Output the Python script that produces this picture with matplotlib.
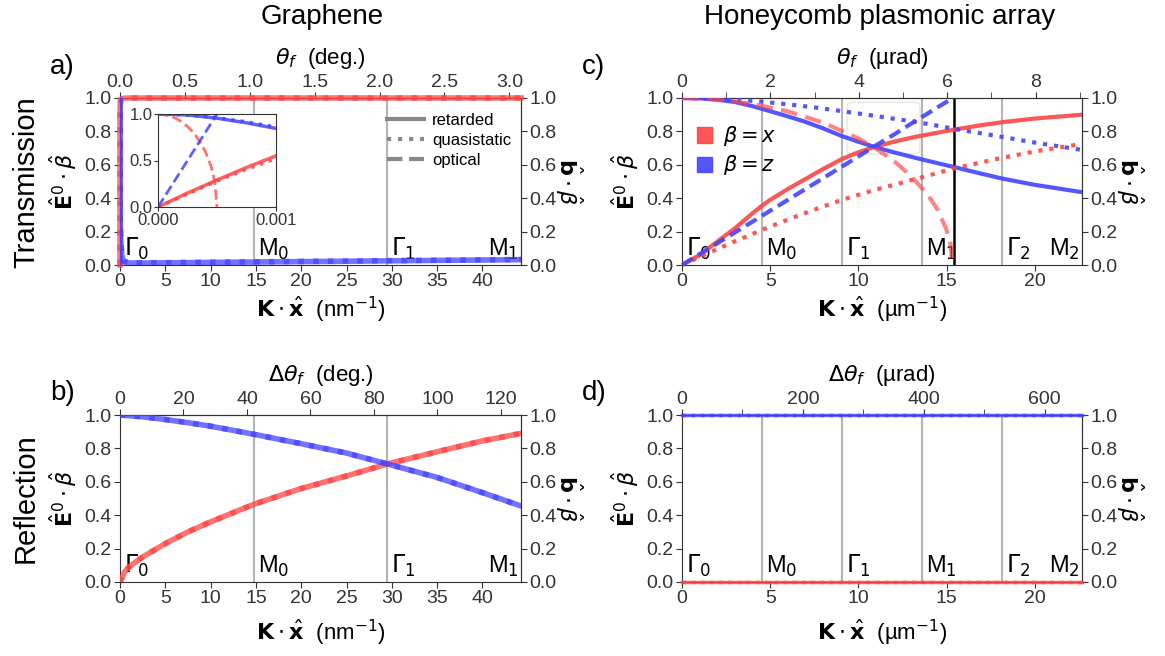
import numpy as np
import matplotlib
matplotlib.use('Agg')
import matplotlib.pyplot as plt
from matplotlib.lines import Line2D
from matplotlib.patches import Patch, FancyBboxPatch
from matplotlib.ticker import MultipleLocator

plt.rcParams['font.family'] = ['Liberation Sans', 'DejaVu Sans']
plt.rcParams['mathtext.fontset'] = 'dejavusans'
plt.rcParams['axes.edgecolor'] = '#333333'
plt.rcParams['xtick.color'] = '#333333'
plt.rcParams['ytick.color'] = '#333333'

red = '#ff4444'
blue = '#4444ff'
grey = '#b4b4b4'

# ---- graphene, transmission (a) ----
k_gr_t = [0, 0.00025, 0.0005, 0.00075, 0.001, 0.003, 0.01, 0.03, 0.1, 0.2, 0.35, 1, 5, 15, 30, 44.25]
x_ret_gr_t = [0, 0.15, 0.29, 0.425, 0.55, 0.8, 0.93, 0.97, 0.99, 0.995, 0.998, 1, 1, 1, 1, 1]
z_ret_gr_t = [1, 0.99, 0.955, 0.905, 0.845, 0.6, 0.37, 0.24, 0.12, 0.06, 0.02, 0.012, 0.013, 0.018, 0.025, 0.032]
x_qs_gr_t = [0, 0.14, 0.28, 0.405, 0.52, 0.77, 0.92, 0.965, 0.99, 0.995, 0.998, 1, 1, 1, 1, 1]
z_qs_gr_t = [1, 0.99, 0.96, 0.915, 0.86, 0.63, 0.39, 0.26, 0.13, 0.065, 0.025, 0.013, 0.014, 0.019, 0.026, 0.033]
k_gr_opt = [0, 0.0001, 0.00015, 0.0002, 0.00025, 0.0003, 0.00035, 0.0004, 0.00045, 0.00048, 0.0005]
x_opt_gr = [1, 0.98, 0.954, 0.917, 0.866, 0.8, 0.714, 0.6, 0.436, 0.28, 0]
z_opt_gr = [0, 0.2, 0.3, 0.4, 0.5, 0.6, 0.7, 0.8, 0.9, 0.96, 1.0]

# ---- graphene, reflection (b) ----
k_gr_r = [0, 0.5, 1, 2.5, 5, 7.5, 10, 14.75, 20, 25, 29.5, 35, 40, 44.25]
x_gr_r = [0, 0.06, 0.09, 0.15, 0.23, 0.3, 0.36, 0.465, 0.56, 0.635, 0.707, 0.78, 0.845, 0.89]
z_gr_r = [1, 0.998, 0.996, 0.989, 0.973, 0.954, 0.933, 0.885, 0.828, 0.772, 0.707, 0.626, 0.535, 0.455]

# ---- honeycomb array, transmission (c) ----
k_hc = [0, 1, 2, 3, 4, 4.535, 5, 6, 7, 8, 9.07, 10, 11, 12, 13, 13.6, 15.4, 17, 18.14, 20, 22.675]
x_ret_hc = [0, 0.06, 0.14, 0.22, 0.31, 0.355, 0.39, 0.455, 0.515, 0.575, 0.635, 0.675, 0.71,
            0.738, 0.762, 0.775, 0.81, 0.838, 0.855, 0.877, 0.9]
z_ret_hc = [1.0, 0.998, 0.99, 0.976, 0.951, 0.935, 0.921, 0.89, 0.857, 0.818, 0.772, 0.738, 0.704,
            0.675, 0.648, 0.632, 0.587, 0.546, 0.518, 0.48, 0.436]
x_qs_hc = [0, 0.048, 0.095, 0.142, 0.186, 0.21, 0.23, 0.272, 0.312, 0.35, 0.39, 0.42, 0.452,
           0.48, 0.508, 0.525, 0.578, 0.615, 0.642, 0.68, 0.725]
z_qs_hc = [1.0, 0.999, 0.995, 0.99, 0.983, 0.978, 0.973, 0.962, 0.95, 0.937, 0.921, 0.907, 0.892,
           0.876, 0.861, 0.851, 0.816, 0.788, 0.767, 0.733, 0.689]
k_hc_opt = [0, 2, 4, 6, 8, 10, 11, 12, 13, 14, 14.5, 15, 15.2, 15.35]
x_opt_hc = [1.0, 0.991, 0.965, 0.92, 0.853, 0.758, 0.697, 0.624, 0.532, 0.41, 0.33, 0.21, 0.14, 0.0]
z_opt_hc = [0, 0.13, 0.26, 0.39, 0.52, 0.65, 0.717, 0.78, 0.847, 0.912, 0.945, 0.977, 0.99, 1.0]
k_light = 15.4

# ---- honeycomb array, reflection (d) ----
k_hc_r = [0, 22.675]
x_hc_r = [0.0, 0.0]
z_hc_r = [1.0, 1.0]

# symmetry points
gr_sym = [0, 14.75, 29.5, 44.25]
gr_lbl = [r'$\Gamma_0$', r'M$_0$', r'$\Gamma_1$', r'M$_1$']
hc_sym = [0, 4.535, 9.07, 13.6, 18.14, 22.675]
hc_lbl = [r'$\Gamma_0$', r'M$_0$', r'$\Gamma_1$', r'M$_1$', r'$\Gamma_2$', r'M$_2$']

W, H = 1165, 656


def box(l, t, r, b):
    return [l / W, 1 - b / H, (r - l) / W, (b - t) / H]


def setup(ax, sym, lbl, f, top_major, top_minor, top_label, unit, xpad):
    ax.set_xlim(0, sym[-1])
    ax.set_ylim(0, 1)
    for x in sym[1:-1]:
        ax.axvline(x, color=grey, lw=1.5, zorder=0)
    for i, (x, s) in enumerate(zip(sym, lbl)):
        if i == len(sym) - 1:
            ax.annotate(s, (x, 0), xytext=(-2, 9), textcoords='offset pixels',
                        ha='right', va='baseline', fontsize=17)
        else:
            ax.annotate(s, (x, 0), xytext=(4, 9), textcoords='offset pixels',
                        ha='left', va='baseline', fontsize=17)
    ax.set_yticks(np.arange(0, 1.01, 0.2))
    ax.xaxis.set_major_locator(MultipleLocator(5))
    ax.tick_params(direction='out', length=4, labelsize=14, pad=2)
    ax.set_xlabel(r'$\mathbf{K}\cdot\hat{\mathbf{x}}$  (' + unit + r'$^{\mathsf{-1}}$)',
                  fontsize=16, labelpad=xpad)
    ax.set_ylabel(r'$\hat{\mathbf{E}}^0\cdot\hat{\beta}$', fontsize=16, labelpad=4)
    top = ax.secondary_xaxis('top', functions=(lambda k: k * f, lambda t: t / f))
    top.xaxis.set_major_locator(MultipleLocator(top_major))
    top.xaxis.set_minor_locator(MultipleLocator(top_minor))
    top.tick_params(which='both', direction='out', length=4, labelsize=14, pad=1)
    top.set_xlabel(top_label, fontsize=16, labelpad=7)
    right = ax.secondary_yaxis('right')
    right.set_yticks(np.arange(0, 1.01, 0.2))
    right.tick_params(direction='out', length=4, labelsize=14, pad=2)
    right.set_ylabel(r'$\hat{\mathbf{b}}\cdot\hat{\beta}$', fontsize=16, rotation=270, labelpad=20)


fig = plt.figure(figsize=(11.65, 6.56), dpi=100)

ax_a = fig.add_axes(box(120, 98, 521, 265))
ax_b = fig.add_axes(box(120, 415, 521, 582))
ax_c = fig.add_axes(box(682, 98, 1082, 265))
ax_d = fig.add_axes(box(682, 415, 1082, 582))

setup(ax_a, gr_sym, gr_lbl, 3.09 / 44.25, 0.5, 0.5, r'$\theta_f$  (deg.)', 'nm', 3)
setup(ax_b, gr_sym, gr_lbl, 126.3 / 44.25, 20, 20, r'$\Delta\theta_f$  (deg.)', 'nm', 8)
setup(ax_c, hc_sym, hc_lbl, 9.05 / 22.675, 2, 1, r'$\theta_f$  (µrad)', 'µm', 3)
setup(ax_d, hc_sym, hc_lbl, 662.0 / 22.675, 200, 100, r'$\Delta\theta_f$  (µrad)', 'µm', 8)

# (a) graphene transmission: the three models overlap
ax_a.plot(k_gr_t, x_ret_gr_t, color=red, lw=4, alpha=0.75, clip_on=False, zorder=3)
ax_a.plot(k_gr_t, x_qs_gr_t, color=red, lw=4, ls=':', alpha=0.75, clip_on=False, zorder=3)
ax_a.plot(k_gr_t, z_ret_gr_t, color=blue, lw=4, alpha=0.75, zorder=3)
ax_a.plot(k_gr_t, z_qs_gr_t, color=blue, lw=4, ls=':', alpha=0.75, zorder=3)
ax_a.plot(k_gr_opt, z_opt_gr, color=blue, lw=3, ls='--', alpha=0.75, zorder=3)

ax_a.legend([Line2D([], [], color='#888888', lw=3, ls=s) for s in ['-', ':', '--']],
            ['retarded', 'quasistatic', 'optical'], loc='upper right',
            bbox_to_anchor=(1.0, 0.97), frameon=False, fontsize=12,
            handlelength=2.2, handletextpad=0.5, labelspacing=0.3, borderaxespad=0.2)

ins = fig.add_axes(box(158, 114, 276, 207))
ins.plot(k_gr_t, x_ret_gr_t, color=red, lw=2.5, alpha=0.85)
ins.plot(k_gr_t, x_qs_gr_t, color=red, lw=2.5, ls=':', alpha=0.85)
ins.plot(k_gr_t, z_ret_gr_t, color=blue, lw=2.5, alpha=0.85)
ins.plot(k_gr_t, z_qs_gr_t, color=blue, lw=2.5, ls=':', alpha=0.85)
ins.plot(k_gr_opt, x_opt_gr, color=red, lw=2, ls='--', alpha=0.75)
ins.plot(k_gr_opt, z_opt_gr, color=blue, lw=2, ls='--', alpha=0.85)
ins.set_xlim(0, 0.001)
ins.set_ylim(0, 1)
ins.set_xticks([0, 0.001])
ins.set_xticklabels(['0.000', '0.001'])
ins.set_yticks([0, 0.5, 1.0])
ins.tick_params(direction='out', length=3, labelsize=12, pad=1)

# (b) graphene reflection
ax_b.plot(k_gr_r, x_gr_r, color=red, lw=4, alpha=0.75, zorder=3)
ax_b.plot(k_gr_r, x_gr_r, color=red, lw=4, ls=':', alpha=0.75, zorder=3)
ax_b.plot(k_gr_r, z_gr_r, color=blue, lw=4, alpha=0.75, zorder=3)
ax_b.plot(k_gr_r, z_gr_r, color=blue, lw=4, ls=':', alpha=0.75, zorder=3)

# (c) honeycomb transmission
ax_c.axvline(k_light, color='black', lw=1.8, zorder=2)
ax_c.plot(k_hc, x_ret_hc, color=red, lw=3, alpha=0.9, zorder=3)
ax_c.plot(k_hc, z_ret_hc, color=blue, lw=3, alpha=0.9, zorder=3)
ax_c.plot(k_hc, x_qs_hc, color=red, lw=3, ls=':', alpha=0.9, zorder=3)
ax_c.plot(k_hc, z_qs_hc, color=blue, lw=3, ls=':', alpha=0.9, zorder=3)
ax_c.plot(k_hc_opt, x_opt_hc, color=red, lw=3, ls=(0, (4, 2)), alpha=0.65, zorder=3)
ax_c.plot(k_hc_opt, z_opt_hc, color=blue, lw=3, ls=(0, (3, 1.5)), alpha=0.9, zorder=3, clip_on=False)
ax_c.add_patch(FancyBboxPatch((0.4125, 0.665), 0.1825, 0.31, boxstyle='round,pad=0,rounding_size=0.02',
                              transform=ax_c.transAxes, fill=False, ec='#e2e2e2', lw=0.8, zorder=1))
ax_c.legend([Patch(color=red, alpha=0.9), Patch(color=blue, alpha=0.9)],
            [r'$\beta = x$', r'$\beta = z$'], loc='upper left', bbox_to_anchor=(0.0, 0.93),
            frameon=False, fontsize=15, handlelength=0.75, handleheight=0.75,
            handletextpad=0.5, labelspacing=0.25, borderaxespad=0.3)

# (d) honeycomb reflection
ax_d.plot(k_hc_r, z_hc_r, color=blue, lw=2.5, alpha=0.8, zorder=3, clip_on=False)
ax_d.plot(k_hc_r, z_hc_r, color=blue, lw=2.5, ls=':', alpha=0.8, zorder=3, clip_on=False)
ax_d.plot(k_hc_r, x_hc_r, color=red, lw=2.5, alpha=0.8, zorder=3, clip_on=False)
ax_d.plot(k_hc_r, x_hc_r, color=red, lw=2.5, ls=':', alpha=0.8, zorder=3, clip_on=False)

# titles and labels
fig.text(322 / W, 1 - 17 / H, 'Graphene', ha='center', va='center', fontsize=20)
fig.text(880 / W, 1 - 17 / H, 'Honeycomb plasmonic array', ha='center', va='center', fontsize=20)
fig.text(26 / W, 1 - 182 / H, 'Transmission', rotation=90, ha='center', va='center', fontsize=21)
fig.text(26 / W, 1 - 498 / H, 'Reflection', rotation=90, ha='center', va='center', fontsize=21)
for s, x, y in [('a)', 50, 67), ('b)', 50, 393), ('c)', 582, 67), ('d)', 582, 393)]:
    fig.text(x / W, 1 - y / H, s, ha='left', va='center', fontsize=20)

fig.savefig('out.png', dpi=100)
